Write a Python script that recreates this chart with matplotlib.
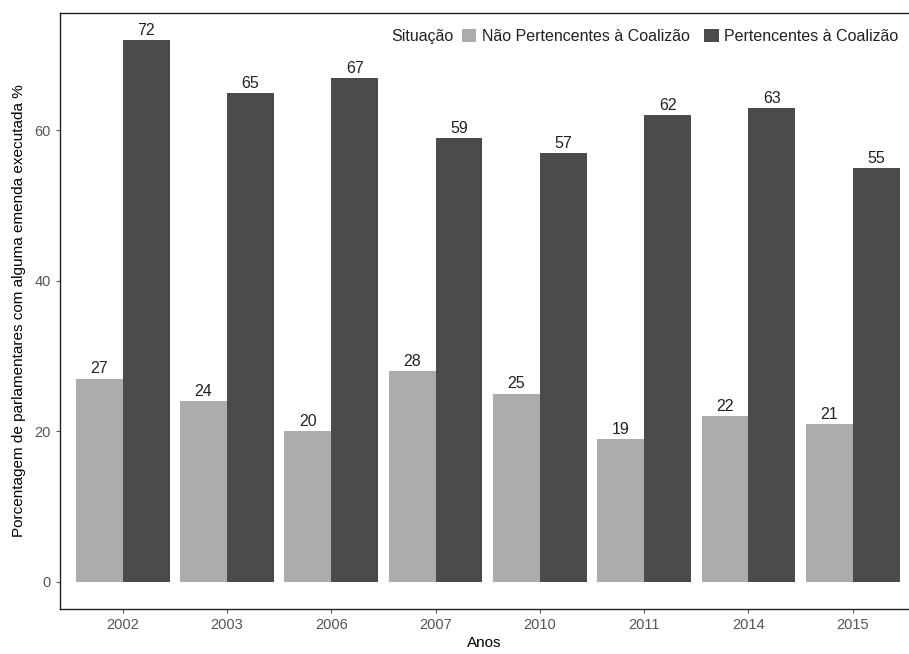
import numpy as np
import matplotlib.pyplot as plt

anos = ['2002', '2003', '2006', '2007', '2010', '2011', '2014', '2015']
nao_pert = [27, 24, 20, 28, 25, 19, 22, 21]
pert = [72, 65, 67, 59, 57, 62, 63, 55]

cor_nao = '#acacac'
cor_sim = '#4b4b4b'

fig = plt.figure(figsize=(9.09, 6.54), dpi=100)
ax = fig.add_axes([0.066, 0.069, 0.933, 0.911])

x = np.arange(len(anos))
w = 0.45
b1 = ax.bar(x - w / 2, nao_pert, w, color=cor_nao, label='Não Pertencentes à Coalizão')
b2 = ax.bar(x + w / 2, pert, w, color=cor_sim, label='Pertencentes à Coalizão')

for bars, vals in ((b1, nao_pert), (b2, pert)):
    for r, v in zip(bars, vals):
        ax.text(r.get_x() + r.get_width() / 2, v + 0.3, str(v), ha='center', va='bottom',
                fontsize=11.5, family='Liberation Sans', color='#222222')

ax.set_xlim(-0.6, 7.53)
ax.set_ylim(-3.6, 75.6)
ax.set_xticks(x)
ax.set_xticklabels(anos)
ax.set_yticks([0, 20, 40, 60])
ax.tick_params(colors='#555555', labelsize=10.5, length=3, labelcolor='#555555')
for t in ax.get_xticklabels() + ax.get_yticklabels():
    t.set_family('Liberation Sans')

ax.spines['right'].set_visible(False)
for s in ('left', 'bottom', 'top'):
    ax.spines[s].set_color('#222222')
    ax.spines[s].set_linewidth(1.0)

ax.set_xlabel('Anos', fontsize=11, family='Liberation Sans', labelpad=3)
ax.set_ylabel('Porcentagem de parlamentares com alguma emenda executada %', fontsize=11,
              family='Liberation Sans', labelpad=6)

leg = ax.legend(loc='upper right', ncol=2, frameon=False, bbox_to_anchor=(1.0, 0.99),
                prop={'family': 'Liberation Sans', 'size': 11.5},
                handlelength=0.9, handleheight=0.9, handletextpad=0.35, columnspacing=0.9,
                borderaxespad=0.2)
for t in leg.get_texts():
    t.set_color('#222222')
fig.canvas.draw()
bb = leg.get_window_extent()
ax.text(bb.x0 - 2, (bb.y0 + bb.y1) / 2, 'Situação', transform=None, ha='right', va='center',
        fontsize=11.5, family='Liberation Sans', color='#222222')

fig.savefig('out.png', dpi=100)
